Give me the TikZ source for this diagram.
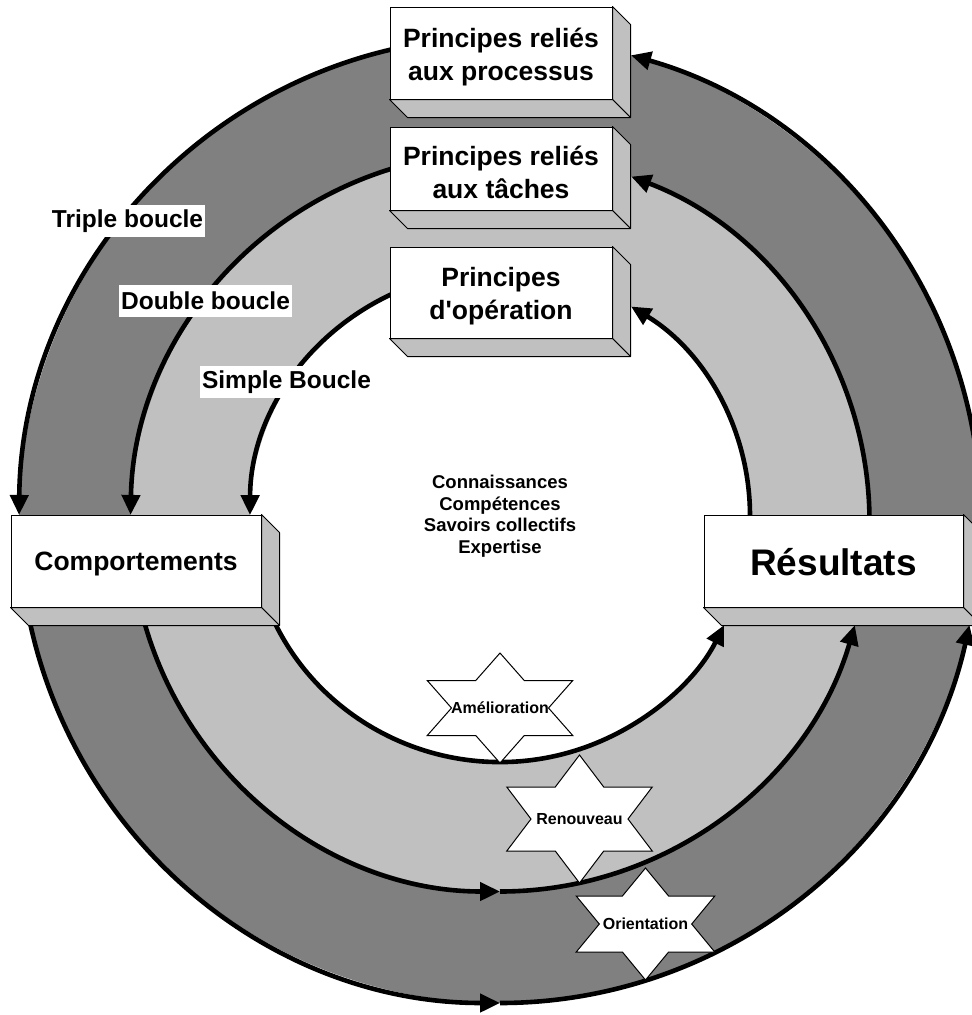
\documentclass[tikz,border=0pt]{standalone}
\usepackage{fontspec}
\setmainfont{Liberation Sans}
\usetikzlibrary{arrows.meta}
\definecolor{ringdark}{HTML}{808080}
\definecolor{ringlight}{HTML}{C0C0C0}
\definecolor{boxside}{HTML}{C0C0C0}

\tikzset{
  outerR/.style={x radius=481, y radius=483},
  middleR/.style={x radius=369.5, y radius=369.5},
  innerR/.style={x radius=250, y radius=246},
  loop/.style={line width=4.6pt, -{Triangle[length=20pt,width=18pt]}},
  face/.style={draw=black, line width=1pt, fill=white, inner sep=0pt},
  boxtext/.style={font=\bfseries\fontsize{26.5}{33}\selectfont, align=center, inner sep=0pt},
  side/.style={draw=black, line width=1pt, fill=boxside, line join=round},
  tag/.style={fill=white, inner xsep=2pt, inner ysep=0pt, minimum height=32pt,
    font=\bfseries\fontsize{24.5}{29}\selectfont},
  startext/.style={font=\bfseries\fontsize{16}{19}\selectfont, inner sep=0pt},
  starline/.style={draw=black, line width=1pt, fill=white},
  pics/hexstar/.style n args={2}{code={
    \begin{scope}[x=#1pt, y=#2pt]
      \path[starline] (90:1) -- (60:0.57735) -- (30:1) -- (0:0.57735)
        -- (-30:1) -- (-60:0.57735) -- (-90:1) -- (-120:0.57735)
        -- (-150:1) -- (180:0.57735) -- (150:1) -- (120:0.57735) -- cycle;
    \end{scope}
  }},
}

% bevelled sides of a box: right face and bottom face
\newcommand\boxbevel[1]{%
  \draw[side] (#1.north east) -- ([shift={(18,18)}]#1.north east)
    -- ([shift={(18,18)}]#1.south east) -- (#1.south east) -- cycle;
  \draw[side] (#1.south west) -- (#1.south east)
    -- ([shift={(18,18)}]#1.south east) -- ([shift={(18,18)}]#1.south west) -- cycle;
}

\begin{document}
\begin{tikzpicture}[x=1pt, y=-1pt]
  \useasboundingbox (0,0) rectangle (972,1015);
  \fill[white] (0,0) rectangle (972,1015);
  \clip (0,0) rectangle (972,1015);

  % ring centres
  \coordinate (O1) at (500,520);
  \coordinate (O2) at (500,522);
  \coordinate (O3) at (500,516);

  % the three rings
  \fill[ringdark]  (O1) ellipse [outerR];
  \fill[ringlight] (O2) ellipse [middleR];
  \fill[white]     (O3) ellipse [innerR];

  % triple loop
  \draw[loop] ([shift={(-100:481 and 483)}]O1) arc[outerR, start angle=-100, end angle=-179.4];
  \draw[loop] ([shift={(170:481 and 483)}]O1) arc[outerR, start angle=170, end angle=90];
  \draw[loop] ([shift={(90:481 and 483)}]O1) arc[outerR, start angle=90, end angle=12.56];
  \draw[loop] ([shift={(2:481 and 483)}]O1) arc[outerR, start angle=2, end angle=-74.2];

  % double loop
  \draw[loop] ([shift={(-100:369.5 and 369.5)}]O2) arc[middleR, start angle=-100, end angle=-178.9];
  \draw[loop] ([shift={(168:369.5 and 369.5)}]O2) arc[middleR, start angle=168, end angle=90];
  \draw[loop] ([shift={(90:369.5 and 369.5)}]O2) arc[middleR, start angle=90, end angle=16.2];
  \draw[loop] ([shift={(3:369.5 and 369.5)}]O2) arc[middleR, start angle=3, end angle=-69.2];

  % simple loop
  \draw[loop] ([shift={(-100:250 and 246)}]O3) arc[innerR, start angle=-100, end angle=-179.8];
  \draw[loop] ([shift={(160:250 and 246)}]O3) arc[innerR, start angle=160, end angle=26.3];
  \draw[loop] ([shift={(3:250 and 246)}]O3) arc[innerR, start angle=3, end angle=-58.4];

  % stars
  \pic (amelstar) at (500,708) {hexstar={84}{55}};
  \pic (renostar) at (579.5,819) {hexstar={84}{64}};
  \pic (oriestar) at (645.5,924) {hexstar={80}{56}};
  \node[startext] (amel) at (500,708) {Amélioration};
  \node[startext] (reno) at (579.5,819) {Renouveau};
  \node[startext] (orie) at (645.5,924) {Orientation};

  % centre text
  \node[font=\bfseries\fontsize{18.5}{21.5}\selectfont, align=center] (savoirs) at (500,516)
    {Connaissances\\Compétences\\Savoirs collectifs\\Expertise};

  % boxes
  \node[face, minimum width=222, minimum height=92] (proc) at (501,53) {};
  \boxbevel{proc}
  \node[boxtext] (proc-text) at (501,57) {Principes reliés\\aux processus};
  \node[face, minimum width=222, minimum height=83] (task) at (501,168.5) {};
  \boxbevel{task}
  \node[boxtext] (task-text) at (501,172) {Principes reliés\\aux tâches};
  \node[face, minimum width=222, minimum height=91] (oper) at (501,292.5) {};
  \boxbevel{oper}
  \node[boxtext] (oper-text) at (501,296.5) {Principes\\d\textquotesingle opération};
  \node[face, minimum width=250, minimum height=92] (comp) at (136,561) {};
  \boxbevel{comp}
  \node[boxtext] (comp-text) at (136,564) {Comportements};
  \node[face, minimum width=259, minimum height=92] (resu) at (833.5,561) {};
  \boxbevel{resu}
  \node[boxtext, font=\bfseries\fontsize{37}{44}\selectfont] (resu-text) at (833.5,562) {Résultats};

  % loop labels
  \node[tag] (triple) at (127.5,221) {Triple boucle};
  \node[tag] (double) at (205.5,301) {Double boucle};
  \node[tag] (simple) at (286.5,382) {Simple Boucle};
\end{tikzpicture}
\end{document}
